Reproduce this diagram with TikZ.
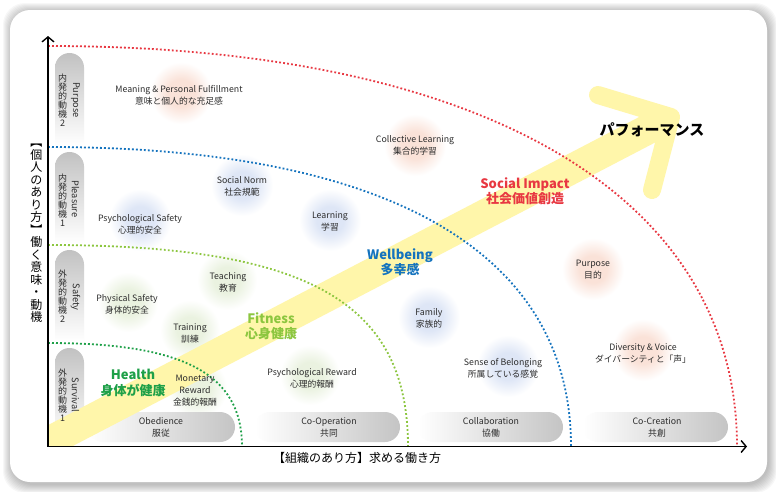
\documentclass[tikz,border=0pt]{standalone}
\usepackage{fontspec}
\newfontfamily\jp{Noto Sans CJK JP}
\usetikzlibrary{arrows.meta}
\definecolor{redc}{RGB}{232,56,66}
\definecolor{bluec}{RGB}{20,115,190}
\definecolor{greenc}{RGB}{30,160,72}
\definecolor{limec}{RGB}{140,198,63}
\definecolor{yel}{RGB}{255,246,170}
\definecolor{peach}{RGB}{250,226,216}
\definecolor{bblue}{RGB}{222,230,246}
\definecolor{bgreen}{RGB}{234,242,224}
\definecolor{txt}{RGB}{45,45,45}
\pgfdeclareradialshading{bubpeach}{\pgfpoint{0bp}{0bp}}{color(0bp)=(peach); color(11bp)=(peach); color(25bp)=(white); color(50bp)=(white)}
\pgfdeclareradialshading{bubblue}{\pgfpoint{0bp}{0bp}}{color(0bp)=(bblue); color(11bp)=(bblue); color(25bp)=(white); color(50bp)=(white)}
\pgfdeclareradialshading{bubgreen}{\pgfpoint{0bp}{0bp}}{color(0bp)=(bgreen); color(11bp)=(bgreen); color(25bp)=(white); color(50bp)=(white)}
\begin{document}
\begin{tikzpicture}[x=1pt,y=-1pt,
  small/.style={font=\jp\fontsize{8.8}{12}\selectfont, text=txt, align=center, inner sep=0pt},
  big/.style={font=\jp\bfseries\fontsize{13}{15.5}\selectfont, align=center, inner sep=0pt},
  dotl/.style={line width=1.8pt, dash pattern=on 1.8pt off 2.2pt},
  tabshape/.style={top color=black!24, bottom color=white, rounded corners=14.5pt},
  pill/.style={left color=white, right color=black!23, rounded corners=15pt},
  axisline/.style={line width=1.4pt, -{Straight Barb[length=5pt,width=12pt,line width=1.4pt]}},
  tabEn/.style={font=\jp\fontsize{9.2}{9}\selectfont, rotate=-90, inner sep=0pt, text=txt},
  tabJp/.style={font=\jp\fontsize{9}{9}\selectfont, align=center, inner sep=0pt, text=txt},
  pilltxt/.style={font=\jp\fontsize{8.8}{12}\selectfont, text=txt, align=center, inner sep=0pt},
  bp/.style={shading=bubpeach},
  bb/.style={shading=bubblue},
  bg/.style={shading=bubgreen},
]
\useasboundingbox (0,0) rectangle (776,491);
% card shadow and card
\foreach \i in {1,...,9}{
  \fill[black,opacity=0.03,rounded corners=22pt] ({12-\i},{12-\i}) rectangle ({768+\i},{484+\i});
}
\fill[white,rounded corners=20pt] (10,10) rectangle (767,482);

% bubbles
\shade[bp] (181,93) circle[radius=31];
\shade[bp] (415,145) circle[radius=31];
\shade[bp] (593,269) circle[radius=31];
\shade[bp] (643,350) circle[radius=31];
\shade[bb] (242,185) circle[radius=31];
\shade[bb] (140,220) circle[radius=31];
\shade[bb] (330,220) circle[radius=31];
\shade[bb] (429,317) circle[radius=31];
\shade[bb] (508,366) circle[radius=31];
\shade[bg] (227,280) circle[radius=30];
\shade[bg] (128,302) circle[radius=30];
\shade[bg] (190,330) circle[radius=30];
\shade[bg] (197,388) circle[radius=30];
\shade[bg] (310,375) circle[radius=30];

% left tabs
\shade[tabshape] (55,145) -- (55,53) -- (84,53) -- (84,145);
\shade[tabshape] (55,243) -- (55,152) -- (84,152) -- (84,243);
\shade[tabshape] (55,341) -- (55,250) -- (84,250) -- (84,341);
\shade[tabshape] (55,440) -- (55,348) -- (84,348) -- (84,440);

% bottom pills
\shade[pill] (88,412) rectangle (235,442);
\shade[pill] (255,412) rectangle (400,442);
\shade[pill] (418,412) rectangle (563,442);
\shade[pill] (583,412) rectangle (728,442);

% yellow arrow
\begin{scope}
\clip (48,0) rectangle (776,446.5);
\coordinate (bs) at (30,451.4);
\coordinate (be) at (662,122);
\draw[yel, line width=30pt] (bs) -- (be);
\coordinate (a1) at (598,95);
\coordinate (a2) at (671,117);
\coordinate (a3) at (652,190);
\draw[yel, line width=18pt, line cap=round, line join=round] (a1) -- (a2) -- (a3);
\end{scope}

% dotted arcs
\coordinate (hS) at (48,343);  \coordinate (hE) at (242,446.5);
\coordinate (fS) at (48,245);  \coordinate (fE) at (408,446.5);
\coordinate (wS) at (48,147);  \coordinate (wE) at (571,446.5);
\coordinate (sS) at (48,46);   \coordinate (sE) at (737,446.5);
\draw[dotl, greenc] (hS) .. controls (183.8,343) and (242,374) .. (hE);
\draw[dotl, limec] (fS) .. controls (307.2,245) and (408,301.4) .. (fE);
\draw[dotl, bluec] (wS) .. controls (388,147) and (571,251.8) .. (wE);
\draw[dotl, redc] (sS) .. controls (482,46) and (737,194.2) .. (sE);

% axes
\coordinate (o) at (48,446.5);
\coordinate (ytop) at (48,36);
\coordinate (xend) at (747,446.5);
\draw[axisline] (o) -- (ytop);
\draw[axisline] (o) -- (xend);

% axis labels
\node[font=\jp\fontsize{12}{12.5}\selectfont, align=center, inner sep=0pt] (ylab) at (36.5,233.5)
  {︻\\個\\人\\の\\あ\\り\\方\\︼\\働\\く\\意\\味\\・\\動\\機};
\node[font=\jp\fontsize{12}{14}\selectfont, inner sep=0pt] (xlab) at (357,458) {【組織のあり方】求める働き方};

% tab labels
\node[tabEn] (tp1) at (75.5,100) {Purpose};
\node[tabJp] (tj1) at (62.5,100) {内\\発\\的\\動\\機\\2};
\node[tabEn] (tp2) at (75.5,199) {Pleasure};
\node[tabJp] (tj2) at (62.5,200) {内\\発\\的\\動\\機\\1};
\node[tabEn] (tp3) at (75.5,297) {Safety};
\node[tabJp] (tj3) at (62.5,296) {外\\発\\的\\動\\機\\2};
\node[tabEn] (tp4) at (75.5,395) {Survival};
\node[tabJp] (tj4) at (62.5,395) {外\\発\\的\\動\\機\\1};

% pill labels
\node[pilltxt] (p1) at (161,427) {Obedience\\服従};
\node[pilltxt] (p2) at (329,427) {Co-Operation\\共同};
\node[pilltxt] (p3) at (491,427) {Collaboration\\協働};
\node[pilltxt] (p4) at (657,427) {Co-Creation\\共創};

% bubble labels
\node[small] (n1) at (179,95) {Meaning \& Personal Fulfillment\\意味と個人的な充足感};
\node[small] (n2) at (415,145) {Collective Learning\\集合的学習};
\node[small] (n3) at (242,186) {Social Norm\\社会規範};
\node[small] (n4) at (140,224) {Psychological Safety\\心理的安全};
\node[small] (n5) at (330,221) {Learning\\学習};
\node[small] (n6) at (228,282) {Teaching\\教育};
\node[small] (n7) at (127,304) {Physical Safety\\身体的安全};
\node[small] (n8) at (190,333) {Training\\訓練};
\node[small] (n9) at (195,391) {Monetary\\Reward\\金銭的報酬};
\node[small] (n10) at (312,378) {Psychological Reward\\心理的報酬};
\node[small] (n11) at (429,318) {Family\\家族的};
\node[small] (n12) at (503,368) {Sense of Belonging\\所属している感覚};
\node[small] (n13) at (593,270) {Purpose\\目的};
\node[small] (n14) at (643,353) {Diversity \& Voice\\ダイバーシティと「声」};

% zone labels
\node[big, text=greenc] (health) at (133,383) {Health\\身体が健康};
\node[big, text=limec] (fitness) at (271,326) {Fitness\\心身健康};
\node[big, text=bluec] (wellbeing) at (400,262) {Wellbeing\\多幸感};
\node[big, text=redc] (social) at (525,191) {Social Impact\\社会価値創造};
\node[font=\jp\bfseries\fontsize{15}{17}\selectfont, inner sep=0pt] (perf) at (652,130) {パフォーマンス};
\end{tikzpicture}
\end{document}
